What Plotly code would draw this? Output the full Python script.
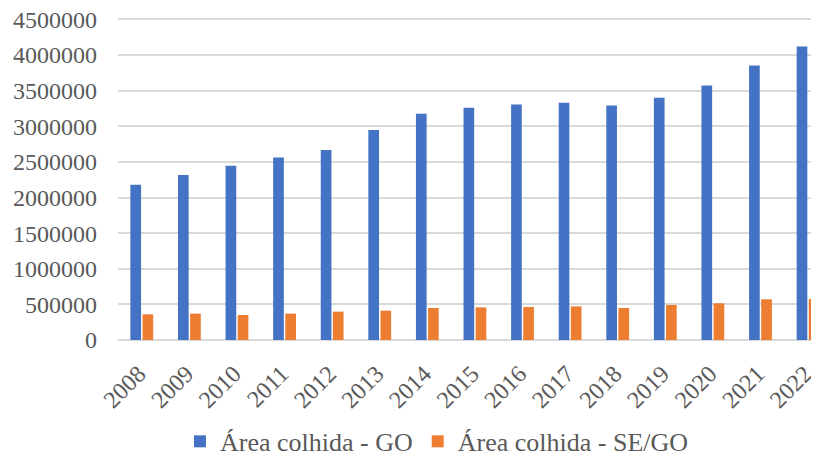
import plotly.graph_objects as go

years = ["2008", "2009", "2010", "2011", "2012", "2013", "2014", "2015",
         "2016", "2017", "2018", "2019", "2020", "2021", "2022"]
area_go = [2180000, 2315000, 2446000, 2563000, 2666000, 2947000, 3176000, 3260000,
           3307000, 3331000, 3293000, 3401000, 3574000, 3854000, 4121000]
area_se_go = [360000, 370000, 351000, 370000, 398000, 412000, 449000, 458000,
              463000, 472000, 449000, 491000, 515000, 571000, 575000]
y_ticks = [0, 500000, 1000000, 1500000, 2000000, 2500000, 3000000, 3500000, 4000000, 4500000]

font_family = "Liberation Serif"
txt = "#595959"

fig = go.Figure()
fig.add_trace(go.Bar(x=years, y=area_go, name="Área colhida - GO",
                     marker=dict(color="#4472C4", line=dict(width=0))))
fig.add_trace(go.Bar(x=years, y=area_se_go, name="Área colhida - SE/GO",
                     marker=dict(color="#ED7D31", line=dict(width=0))))

fig.update_layout(
    width=811, height=449,
    margin=dict(l=110, r=0, t=10, b=117, autoexpand=False),
    paper_bgcolor="white", plot_bgcolor="white",
    barmode="group", bargap=0.49, bargroupgap=0.12,
    font=dict(family=font_family, size=24, color=txt),
    showlegend=True,
    legend=dict(orientation="h", x=0.455, xanchor="center", y=-0.315, yanchor="middle",
                font=dict(family=font_family, size=26, color=txt), itemwidth=30,
                traceorder="normal"),
    xaxis=dict(type="category", range=[-0.5, 14.23], tickangle=-45,
               showgrid=False, ticks="", showline=False, automargin=False,
               ticklabelstandoff=14, ticklabelshift=-3,
               tickfont=dict(family=font_family, size=24, color=txt)),
    yaxis=dict(range=[0, 4520000], tickvals=y_ticks,
               ticktext=[str(v) for v in y_ticks],
               showgrid=True, gridcolor="#d9d9d9", gridwidth=1.5,
               zeroline=True, zerolinecolor="#d9d9d9", zerolinewidth=1.5,
               ticks="", ticklabelstandoff=20, automargin=False,
               ticklabeloverflow="allow",
               tickfont=dict(family=font_family, size=24, color=txt)),
)

fig.write_html("out.html")
